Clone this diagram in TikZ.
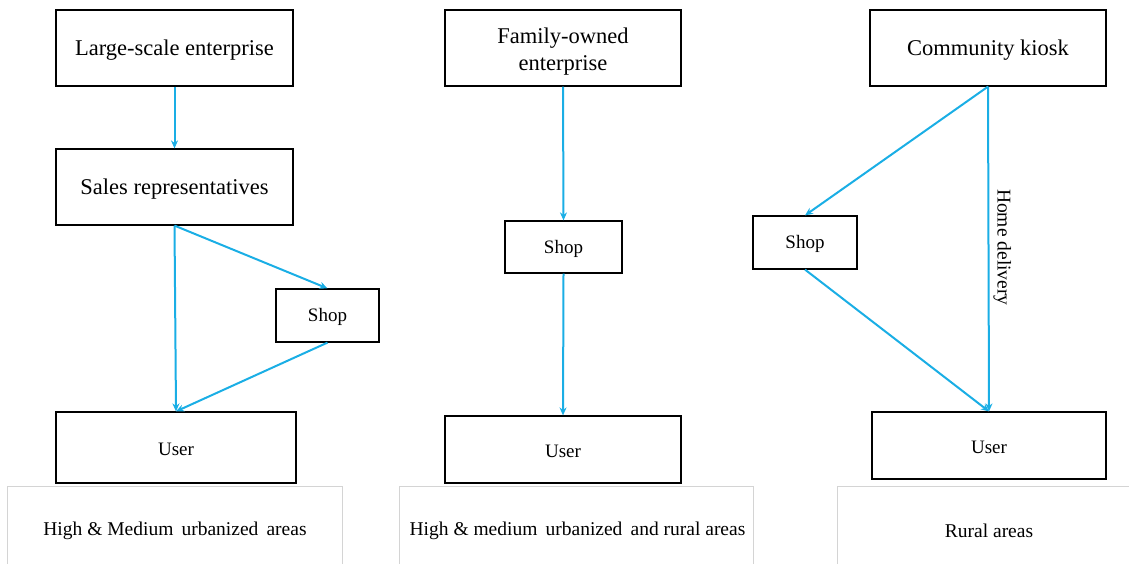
\documentclass[tikz,border=0pt]{standalone}
\usepackage{fontspec}
\setmainfont{Liberation Serif}
\usetikzlibrary{arrows.meta}
\definecolor{arr}{HTML}{1AAEE5}
\definecolor{gline}{HTML}{D4D4D4}
\begin{document}
\begin{tikzpicture}[x=1pt,y=-1pt,
  box/.style={draw=black,line width=1.2pt,rectangle,inner sep=0pt,align=center},
  big/.style={font=\fontsize{22.5}{27}\selectfont,execute at begin node={\rule{0pt}{19.5pt}}},
  bigtwo/.style={font=\fontsize{22.5}{27}\selectfont},
  small/.style={font=\fontsize{19}{22}\selectfont,execute at begin node={\rule{0pt}{17pt}}},
  lab/.style={font=\fontsize{19.5}{23}\selectfont,inner sep=0pt},
  conn/.style={draw=arr,line width=2pt,-{Stealth[length=8pt,width=7pt]}},
  area/.style={draw=gline,line width=0.9pt}]
\useasboundingbox (0,0) rectangle (1129,564);
% left column
\node[box,big,minimum width=237pt,minimum height=76pt] (lse) at (174.5,48) {Large-scale enterprise};
\node[box,big,minimum width=237pt,minimum height=76pt] (sr) at (174.5,187) {Sales representatives};
\node[box,small,minimum width=103pt,minimum height=53pt] (shopl) at (327.5,315.5) {Shop};
\node[box,small,minimum width=240pt,minimum height=71pt] (userl) at (176,447.5) {User};
% middle column
\node[box,bigtwo,minimum width=236pt,minimum height=76pt] (foe) at (563,48)
  {\raisebox{-4pt}[\height][\depth]{\begin{tabular}{@{}c@{}}Family-owned\\enterprise\end{tabular}}};
\node[box,small,minimum width=117pt,minimum height=52pt] (shopm) at (563.5,247) {Shop};
\node[box,small,minimum width=236pt,minimum height=67pt] (userm) at (563,449.5) {User};
% right column
\node[box,big,minimum width=236pt,minimum height=76pt] (ck) at (988,48) {Community kiosk};
\node[box,small,minimum width=104pt,minimum height=53pt] (shopr) at (805,242.5) {Shop};
\node[box,small,minimum width=234pt,minimum height=67pt] (userr) at (989,445.5) {User};
% connectors
\draw[conn] (lse.south) -- (sr.north);
\draw[conn] (sr.south) -- (userl.north);
\draw[conn] (sr.south) -- (shopl.north);
\draw[conn] (shopl.south) -- (userl.north);
\draw[conn] (foe.south) -- (shopm.north);
\draw[conn] (shopm.south) -- (userm.north);
\draw[conn] (ck.south) -- (shopr.north);
\draw[conn] (ck.south) -- node[pos=0.495,right=4pt,rotate=-90,anchor=south,inner sep=0pt,font=\fontsize{19.5}{22}\selectfont] (hd) {Home delivery} (userr.north);
\draw[conn] (shopr.south) -- (userr.north);
% area frames
\draw[area] (7,564) -- (7,486) -- (342,486) -- (342,564);
\draw[area] (399,564) -- (399,486) -- (753,486) -- (753,564);
\draw[area] (837,564) -- (837,486) -- (1135,486);
\node[lab] (a1) at (175,530.5) {High \& Medium\, urbanized\, areas};
\node[lab] (a2) at (577.5,530.5) {High \& medium\, urbanized\, and rural areas};
\node[lab] (a3) at (989,530.5) {Rural areas};
\end{tikzpicture}
\end{document}
